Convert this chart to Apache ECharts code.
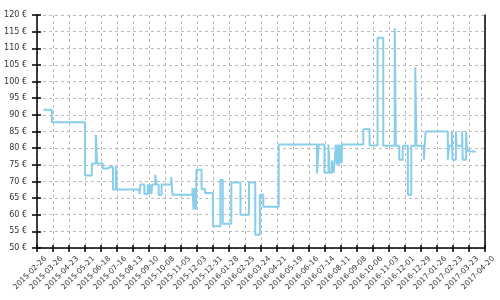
<!DOCTYPE html>
<html><head><meta charset="utf-8">
<script src="https://cdn.jsdelivr.net/npm/echarts@6/dist/echarts.min.js"></script>
<style>html,body{margin:0;padding:0;background:#fff}#c{width:500px;height:300px}</style>
</head><body><div id="c"></div>
<script>
// Axis settings
const startDate = '2015-02-26';
const endDate = '2017-04-20';
const tickDays = 28;
const yMin = 50, yMax = 120, yStep = 5;

// Price history (step changes): date the price starts, price in €
const dates = [
  '2015-03-09','2015-03-24','2015-05-21','2015-06-02','2015-06-09','2015-06-11','2015-06-21','2015-06-28',
  '2015-07-09','2015-07-14','2015-07-16','2015-08-24','2015-08-26','2015-09-02','2015-09-08','2015-09-10',
  '2015-09-12','2015-09-14','2015-09-16','2015-09-21','2015-09-23','2015-09-27','2015-10-02','2015-10-19',
  '2015-10-21','2015-11-25','2015-11-27','2015-11-29','2015-12-01','2015-12-02','2015-12-11','2015-12-17',
  '2015-12-31','2016-01-13','2016-01-17','2016-02-01','2016-02-17','2016-03-03','2016-03-14','2016-03-22',
  '2016-03-28','2016-04-24','2016-06-30','2016-07-03','2016-07-13','2016-07-20','2016-07-22','2016-07-26',
  '2016-07-29','2016-07-31','2016-08-02','2016-08-04','2016-08-06','2016-08-08','2016-08-10','2016-08-12',
  '2016-08-13','2016-09-19','2016-09-30','2016-10-14','2016-10-24','2016-11-13','2016-11-15','2016-11-21',
  '2016-11-27','2016-12-06','2016-12-12','2016-12-19','2016-12-21','2017-01-03','2017-01-06','2017-02-14',
  '2017-02-16','2017-02-21','2017-02-22','2017-02-28','2017-03-01','2017-03-11','2017-03-12','2017-03-18',
  '2017-03-19','2017-03-22','2017-04-04'
];
const prices = [
  91.5, 87.8, 71.8, 75.4, 84.0, 75.4, 73.9, 74.5,
  67.6, 74.5, 67.6, 66.2, 69.1, 66.2, 69.1, 66.2,
  69.1, 66.2, 69.1, 72.0, 69.1, 66.0, 69.1, 71.3,
  66.0, 68.0, 61.5, 68.0, 61.5, 73.5, 67.7, 66.5,
  56.5, 70.5, 57.3, 69.7, 60.0, 69.7, 54.0, 66.0,
  62.4, 81.1, 72.4, 81.1, 72.6, 81.1, 72.6, 76.3,
  72.6, 76.3, 81.1, 75.0, 81.1, 75.0, 81.1, 75.5,
  81.1, 85.7, 80.8, 113.2, 80.7, 116.0, 80.7, 76.5,
  80.7, 66.0, 80.7, 104.3, 80.7, 76.5, 85.0, 76.5,
  80.7, 85.0, 76.5, 85.0, 80.7, 85.0, 76.5, 85.0,
  80.7, 79.0, 79.0
];

const DAY = 86400000;
function toMs(s){ const p = s.split('-').map(Number); return Date.UTC(p[0], p[1]-1, p[2]); }
const base = toMs(startDate);
const dayOf = s => Math.round((toMs(s) - base) / DAY);
function fmtDay(d){
  const t = new Date(base + d * DAY);
  const mm = String(t.getUTCMonth()+1).padStart(2,'0');
  const dd = String(t.getUTCDate()).padStart(2,'0');
  return t.getUTCFullYear() + '-' + mm + '-' + dd;
}
const seriesData = dates.map((d, i) => [dayOf(d), prices[i]]);

const FONT = 'DejaVu Sans';
const textColor = '#333';
const gridColor = '#bbbbbb';
const xMax = dayOf(endDate);

const chart = echarts.init(document.getElementById('c'), null, {renderer: 'canvas'});
chart.setOption({
  animation: false,
  backgroundColor: '#fff',
  grid: {left: 37, right: 15, top: 15, bottom: 52, containLabel: false, outerBoundsMode: 'none'},
  xAxis: [{
    type: 'value', min: 0, max: xMax, interval: tickDays, position: 'bottom',
    axisLine: {show: true, onZero: false, lineStyle: {color: '#000', width: 1.5}},
    axisTick: {show: true, length: 4, lineStyle: {color: '#000', width: 1.5}},
    axisLabel: {rotate: 45, margin: 18, fontSize: 7.5, fontFamily: FONT, color: textColor,
      padding: [0, -12, 0, 0],
      showMinLabel: true, showMaxLabel: true, formatter: v => fmtDay(v)},
    splitLine: {show: true, lineStyle: {color: gridColor, type: [3, 3], width: 1}}
  }, {
    type: 'value', min: 0, max: xMax, interval: tickDays, position: 'bottom', gridIndex: 0,
    axisLine: {show: false, onZero: false},
    axisTick: {show: true, inside: true, length: 3, lineStyle: {color: '#000', width: 1.5}},
    axisLabel: {show: false}, splitLine: {show: false}
  }],
  yAxis: [{
    type: 'value', min: yMin, max: yMax, interval: yStep, position: 'left',
    axisLine: {show: true, onZero: false, lineStyle: {color: '#000', width: 1.5}},
    axisTick: {show: true, length: 5, lineStyle: {color: '#000', width: 1.5}},
    axisLabel: {margin: 10, fontSize: 8, fontFamily: FONT, color: textColor, formatter: v => v + ' €'},
    splitLine: {show: true, lineStyle: {color: gridColor, type: [3, 3], width: 1}}
  }, {
    type: 'value', min: yMin, max: yMax, interval: yStep, position: 'left',
    axisLine: {show: false, onZero: false},
    axisTick: {show: true, inside: true, length: 4, lineStyle: {color: '#000', width: 1.5}},
    axisLabel: {show: false}, splitLine: {show: false}
  }, {
    type: 'value', min: yMin, max: yMax, interval: yStep, position: 'right',
    axisLine: {show: true, onZero: false, lineStyle: {color: '#000', width: 1.5}},
    axisTick: {show: false}, axisLabel: {show: false}, splitLine: {show: false}
  }],
  series: [{
    type: 'line', step: 'end', data: seriesData, xAxisIndex: 0, yAxisIndex: 0,
    showSymbol: false, symbol: 'none',
    lineStyle: {color: '#87ceeb', width: 2}, itemStyle: {color: '#87ceeb'}
  }]
});
</script>
</body></html>
